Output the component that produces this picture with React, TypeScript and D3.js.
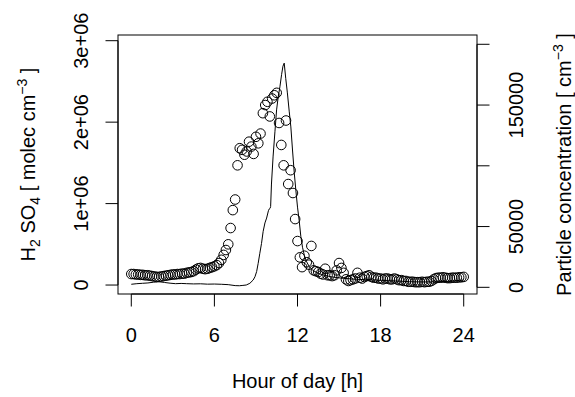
import * as d3 from "d3";

// H2SO4 (circles, left axis), hour of day
const acidHours = [
  0, 0.17, 0.33, 0.5, 0.67, 0.83, 1, 1.17, 1.33, 1.5, 1.67, 1.83, 2, 2.17, 2.33, 2.5, 2.67, 2.83,
  3, 3.17, 3.33, 3.5, 3.67, 3.83, 4, 4.17, 4.33, 4.5, 4.67, 4.83, 5, 5.17, 5.33, 5.5, 5.67, 5.83,
  6, 6.17, 6.33, 6.5, 6.67, 6.83, 7, 7.17, 7.33, 7.5, 7.67, 7.83, 8, 8.17, 8.33, 8.5, 8.67, 8.83,
  9, 9.17, 9.33, 9.5, 9.67, 9.83, 10, 10.17, 10.33, 10.5, 10.67, 10.83, 11, 11.17, 11.33, 11.5, 11.67, 11.83,
  12, 12.17, 12.33, 12.5, 12.67, 12.83, 13, 13.17, 13.33, 13.5, 13.67, 13.83, 14, 14.17, 14.33, 14.5, 14.67, 14.83,
  15, 15.17, 15.33, 15.5, 15.67, 15.83, 16, 16.17, 16.33, 16.5, 16.67, 16.83, 17, 17.17, 17.33, 17.5, 17.67, 17.83,
  18, 18.17, 18.33, 18.5, 18.67, 18.83, 19, 19.17, 19.33, 19.5, 19.67, 19.83, 20, 20.17, 20.33, 20.5, 20.67, 20.83,
  21, 21.17, 21.33, 21.5, 21.67, 21.83, 22, 22.17, 22.33, 22.5, 22.67, 22.83, 23, 23.17, 23.33, 23.5, 23.67, 23.83, 24,
];
const acid = [
  135000, 135000, 130000, 130000, 125000, 125000, 120000, 120000, 115000, 110000, 105000, 100000, 100000, 105000, 110000, 115000, 120000, 125000,
  130000, 130000, 135000, 135000, 140000, 140000, 150000, 155000, 160000, 170000, 190000, 205000, 210000, 200000, 195000, 200000, 210000, 220000,
  230000, 245000, 270000, 310000, 370000, 430000, 500000, 700000, 920000, 1050000, 1470000, 1680000, 1660000, 1600000, 1640000, 1760000, 1700000, 1610000,
  1820000, 1740000, 1860000, 2110000, 2210000, 2250000, 2070000, 2290000, 2330000, 2360000, 1990000, 1720000, 1470000, 2020000, 1240000, 1410000, 1130000, 810000,
  540000, 340000, 220000, 360000, 280000, 250000, 480000, 180000, 170000, 160000, 140000, 130000, 200000, 120000, 120000, 110000, 120000, 180000,
  270000, 210000, 150000, 70000, 50000, 60000, 70000, 80000, 150000, 90000, 80000, 100000, 110000, 120000, 100000, 90000, 90000, 80000,
  80000, 70000, 80000, 80000, 70000, 70000, 80000, 70000, 60000, 60000, 50000, 50000, 40000, 40000, 40000, 35000, 35000, 35000,
  40000, 35000, 40000, 40000, 50000, 70000, 85000, 90000, 90000, 95000, 90000, 85000, 85000, 90000, 90000, 90000, 95000, 95000, 100000,
];

// particle concentration (line, right axis)
const particleHours = [
  0, 0.4, 0.8, 1.2, 1.6, 2, 2.4, 2.8, 3.2, 3.6, 4, 4.5, 5, 5.5, 6, 6.5, 7, 7.5, 7.8, 8, 8.3,
  8.56, 8.8, 8.93, 9.05, 9.16, 9.28, 9.4, 9.52, 9.65, 9.77, 9.9, 9.96, 10.02, 10.06, 10.12, 10.24, 10.37, 10.49,
  10.61, 10.73, 10.85, 10.95, 11.04, 11.15, 11.27, 11.4, 11.52, 11.64, 11.76, 11.88, 12, 12.12, 12.24, 12.36,
  12.5, 12.66, 12.85, 13.1, 13.5, 13.9, 14.5, 15.3, 16, 17, 17.7, 18.5, 19.5, 20.1, 21, 22, 22.5, 23.2, 24,
];
const particles = [
  2500, 3000, 3300, 3600, 4200, 4600, 4000, 3400, 3000, 3200, 3000, 2800, 2900, 2600, 2700, 2500, 2200, 1400, 1300, 1500, 1900,
  3300, 6000, 8700, 13000, 19700, 28000, 36000, 46000, 53000, 57000, 63000, 64500, 65000, 66500, 85000, 108000, 128000, 146000,
  157000, 165000, 175000, 182000, 184500, 172000, 160000, 145000, 132000, 113000, 95000, 80000, 66000, 55000, 42000, 33000,
  26000, 21000, 17000, 14000, 11500, 10000, 8500, 7400, 6800, 6200, 6000, 5500, 5000, 4600, 4400, 4500, 4600, 5200, 6000,
];

const hourTicks = [0, 6, 12, 18, 24];
const acidTicks = [0, 1e6, 2e6, 3e6];
const acidTickLabels = ["0", "1e+06", "2e+06", "3e+06"];
const particleTicks = [0, 50000, 100000, 150000, 200000];
const particleTickLabels = ["0", "50000", "", "150000", ""]; // R drops the overlapping ones

const width = 575;
const height = 397;
const left = 118, right = 477, top = 35, bottom = 294;
const tick = 12.5;
const font = "'Liberation Sans', Arial, Helvetica, sans-serif";

export default function App() {
  const x = d3.scaleLinear([-0.96, 24.96], [left, right]);
  const yL = d3.scaleLinear([-110000, 3070000], [bottom, top]);
  const yR = d3.scaleLinear([-5500, 207650], [bottom, top]);
  const line = d3.line<number>((_, i) => x(particleHours[i]), (d) => yR(d));
  const midY = (top + bottom) / 2;

  return (
    <svg width={width} height={height} style={{ position: "absolute", left: 0, top: 0, background: "#fff" }}
      fontFamily={font} fontSize={20} fill="#000">
      <rect x={left} y={top} width={right - left} height={bottom - top} fill="none" stroke="#000" strokeWidth={1} />

      <path d={line(particles) ?? ""} fill="none" stroke="#000" strokeWidth={1} />
      <g fill="none" stroke="#000" strokeWidth={1}>
        {acid.map((d, i) => (<circle key={i} cx={x(acidHours[i])} cy={yL(d)} r={4.8} />))}
      </g>

      {/* bottom axis */}
      <g stroke="#000">
        <line x1={x(0)} x2={x(24)} y1={bottom} y2={bottom} />
        {hourTicks.map((t) => (<line key={t} x1={x(t)} x2={x(t)} y1={bottom} y2={bottom + tick} />))}
      </g>
      {hourTicks.map((t) => (<text key={t} x={x(t)} y={342} textAnchor="middle">{t}</text>))}
      <text x={(left + right) / 2} y={388} textAnchor="middle">Hour of day [h]</text>

      {/* left axis */}
      <g stroke="#000">
        <line x1={left} x2={left} y1={yL(0)} y2={yL(3e6)} />
        {acidTicks.map((t) => (<line key={t} x1={left - tick} x2={left} y1={yL(t)} y2={yL(t)} />))}
      </g>
      {acidTicks.map((t, i) => (
        <text key={t} transform={`translate(88,${yL(t)}) rotate(-90)`} textAnchor="middle">{acidTickLabels[i]}</text>
      ))}
      <text transform={`translate(35,${midY}) rotate(-90)`} textAnchor="middle">
        H<tspan fontSize={14} dy={5}>2</tspan><tspan dy={-5}> SO</tspan><tspan fontSize={14} dy={5}>4</tspan>
        <tspan dy={-5}> [ molec cm</tspan><tspan fontSize={14} dy={-8}>−3</tspan><tspan dy={8}> ]</tspan>
      </text>

      {/* right axis */}
      <g stroke="#000">
        <line x1={right} x2={right} y1={yR(0)} y2={yR(200000)} />
        {particleTicks.map((t) => (<line key={t} x1={right} x2={right + tick} y1={yR(t)} y2={yR(t)} />))}
      </g>
      {particleTicks.map((t, i) => (
        <text key={t} transform={`translate(522.5,${yR(t)}) rotate(-90)`} textAnchor="middle">{particleTickLabels[i]}</text>
      ))}
      <text transform={`translate(571,${midY}) rotate(-90)`} textAnchor="middle">
        Particle concentration [ cm<tspan fontSize={14} dy={-8}>−3</tspan><tspan dy={8}> ]</tspan>
      </text>
    </svg>
  );
}
